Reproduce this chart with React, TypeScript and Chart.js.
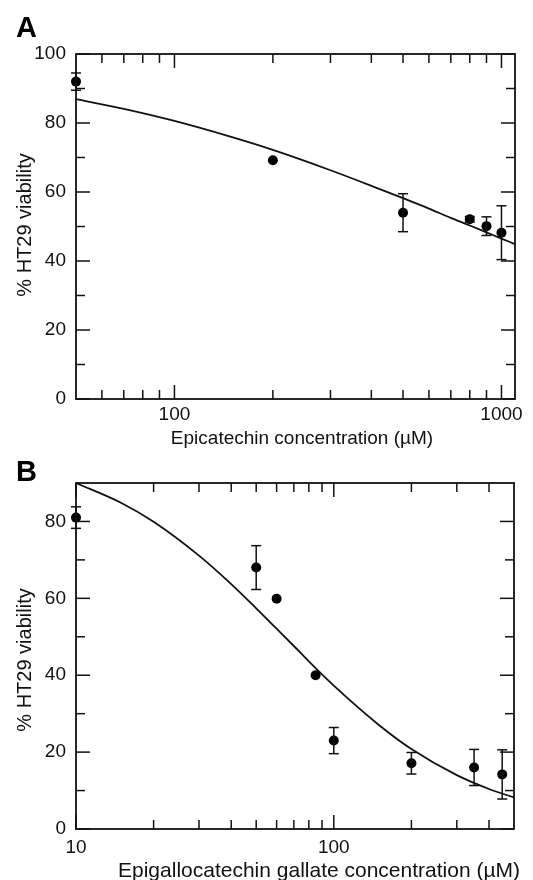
import React, { useEffect, useRef } from 'react';
import { Chart, registerables } from 'chart.js';

Chart.register(...registerables);

// ---------- Panel A : Epicatechin ----------
const aConc = [50, 200, 500, 800, 900, 1000];
const aViab = [92, 69.2, 54, 52.1, 50.1, 48.2];
const aErr = [2.5, 0, 5.5, 0.8, 2.7, 7.8];
const aFitConc = [50, 70, 100, 150, 200, 300, 400, 500, 600, 700, 800, 900, 1000, 1100];
const aFitViab = [86.9, 84.1, 80.6, 75.9, 72.2, 66.3, 61.8, 58.2, 55.2, 52.5, 50.3, 48.3, 46.5, 44.9];
const aXLabels = [100, 1000];
const aXMinor = [60, 70, 80, 90, 200, 300, 400, 500, 600, 700, 800, 900];
const aYLabels = [0, 20, 40, 60, 80, 100];
const aYMinor = [10, 30, 50, 70, 90];

// ---------- Panel B : Epigallocatechin gallate ----------
const bConc = [10, 50, 60, 85, 100, 200, 350, 450];
const bViab = [81, 68, 59.9, 40, 23, 17.1, 16, 14.2];
const bErr = [2.8, 5.7, 0, 0, 3.4, 2.8, 4.7, 6.4];
const bFitConc = [10, 15, 20, 30, 40, 50, 60, 70, 80, 100, 150, 200, 300, 400, 500];
const bFitViab = [90, 84.8, 79.9, 71.1, 63.7, 57.4, 52.1, 47.6, 43.6, 37.3, 27.0, 20.8, 14.0, 10.4, 8.2];
const bXLabels = [10, 100];
const bXMinor = [20, 30, 40, 50, 60, 70, 80, 90, 200, 300, 400];
const bYLabels = [0, 20, 40, 60, 80];
const bYMinor = [10, 30, 50, 70];

const INK = '#111';
const FONT = '"Liberation Sans", Arial, Helvetica, sans-serif';

type Panel = {
  letter: string;
  xTitle: string;
  yTitle: string;
  conc: number[];
  viab: number[];
  err: number[];
  fitConc: number[];
  fitViab: number[];
  xLabels: number[];
  xMinor: number[];
  yLabels: number[];
  yMinor: number[];
  xMin: number;
  xMax: number;
  yMax: number;
  height: number;
  padTop: number;
  padRight: number;
  xTickPad: number;
  letterY: number;
  xTitleX: number;
  xTitleY: number;
  xTitleSize: number;
  yTitleY: number;
};

const panelA: Panel = {
  letter: 'A',
  xTitle: 'Epicatechin concentration (\u00B5M)',
  yTitle: '% HT29 viability',
  conc: aConc, viab: aViab, err: aErr,
  fitConc: aFitConc, fitViab: aFitViab,
  xLabels: aXLabels, xMinor: aXMinor, yLabels: aYLabels, yMinor: aYMinor,
  xMin: 50, xMax: 1100, yMax: 100,
  height: 450, padTop: 54, padRight: 18, xTickPad: 4,
  letterY: 37, xTitleX: 302, xTitleY: 443.5, xTitleSize: 19, yTitleY: 225,
};

const panelB: Panel = {
  letter: 'B',
  xTitle: 'Epigallocatechin gallate concentration (\u00B5M)',
  yTitle: '% HT29 viability',
  conc: bConc, viab: bViab, err: bErr,
  fitConc: bFitConc, fitViab: bFitViab,
  xLabels: bXLabels, xMinor: bXMinor, yLabels: bYLabels, yMinor: bYMinor,
  xMin: 10, xMax: 500, yMax: 90,
  height: 430, padTop: 33, padRight: 19, xTickPad: 7,
  letterY: 31, xTitleX: 319, xTitleY: 427, xTitleSize: 21, yTitleY: 210,
};

function makeDecor(p: Panel) {
  return {
    id: 'decor' + p.letter,
    afterDatasetsDraw(chart: any) {
      const { ctx, chartArea: ca } = chart;
      const xs = chart.scales.x;
      const ys = chart.scales.y;
      ctx.save();
      ctx.strokeStyle = INK;
      ctx.lineWidth = 1.5;
      const seg = (x1: number, y1: number, x2: number, y2: number) => {
        ctx.beginPath();
        ctx.moveTo(x1, y1);
        ctx.lineTo(x2, y2);
        ctx.stroke();
      };
      // error bars
      p.conc.forEach((c, i) => {
        const e = p.err[i];
        if (!e) return;
        const px = xs.getPixelForValue(c);
        const t = ys.getPixelForValue(p.viab[i] + e);
        const b = ys.getPixelForValue(p.viab[i] - e);
        seg(px, t, px, b);
        seg(px - 5, t, px + 5, t);
        seg(px - 5, b, px + 5, b);
      });
      // inward ticks on all four sides
      const xt = (vals: number[], len: number) =>
        vals.forEach((v) => {
          const px = xs.getPixelForValue(v);
          seg(px, ca.bottom, px, ca.bottom - len);
          seg(px, ca.top, px, ca.top + len);
        });
      const yt = (vals: number[], len: number) =>
        vals.forEach((v) => {
          const py = ys.getPixelForValue(v);
          seg(ca.left, py, ca.left + len, py);
          seg(ca.right, py, ca.right - len, py);
        });
      xt(p.xLabels, 14);
      xt(p.xMinor, 9);
      yt(p.yLabels, 14);
      yt(p.yMinor, 9);
      // frame
      ctx.lineWidth = 1.8;
      ctx.strokeRect(ca.left, ca.top, ca.right - ca.left, ca.bottom - ca.top);
      // texts
      ctx.fillStyle = '#000';
      ctx.textBaseline = 'alphabetic';
      ctx.font = `bold 29px ${FONT}`;
      ctx.textAlign = 'left';
      ctx.fillText(p.letter, 16, p.letterY);
      ctx.fillStyle = INK;
      ctx.font = `${p.xTitleSize}px ${FONT}`;
      ctx.textAlign = 'center';
      ctx.fillText(p.xTitle, p.xTitleX, p.xTitleY);
      ctx.font = `20px ${FONT}`;
      ctx.translate(31, p.yTitleY);
      ctx.rotate(-Math.PI / 2);
      ctx.fillText(p.yTitle, 0, 0);
      ctx.restore();
    },
  };
}

function PanelChart({ p, top }: { p: Panel; top: number }) {
  const ref = useRef<HTMLCanvasElement>(null);
  useEffect(() => {
    const tickFont = { family: FONT, size: 19 };
    const chart = new Chart(ref.current as HTMLCanvasElement, {
      type: 'scatter',
      data: {
        datasets: [
          {
            label: 'fit',
            data: p.fitConc.map((c, i) => ({ x: c, y: p.fitViab[i] })),
            showLine: true,
            borderColor: INK,
            borderWidth: 1.8,
            pointRadius: 0,
            cubicInterpolationMode: 'monotone',
            clip: false as any,
          } as any,
          {
            label: 'data',
            data: p.conc.map((c, i) => ({ x: c, y: p.viab[i] })),
            showLine: false,
            backgroundColor: '#000',
            borderColor: '#000',
            borderWidth: 0,
            pointRadius: 5,
            clip: false as any,
          } as any,
        ],
      },
      options: {
        responsive: false,
        animation: false,
        devicePixelRatio: 1,
        layout: { padding: { top: p.padTop, right: p.padRight, left: 0, bottom: 0 } },
        plugins: { legend: { display: false }, tooltip: { enabled: false } },
        scales: {
          x: {
            type: 'logarithmic',
            min: p.xMin,
            max: p.xMax,
            grid: { display: false, drawTicks: false },
            border: { display: false },
            ticks: {
              font: tickFont,
              color: INK,
              padding: p.xTickPad,
              autoSkip: false,
              maxRotation: 0,
              callback: (v: any) => String(v),
            },
            afterBuildTicks: (s: any) => {
              s.ticks = p.xLabels.map((v) => ({ value: v }));
            },
            afterFit: (s: any) => {
              s.height = 51;
            },
          },
          y: {
            type: 'linear',
            min: 0,
            max: p.yMax,
            grid: { display: false, drawTicks: false },
            border: { display: false },
            ticks: {
              font: tickFont,
              color: INK,
              padding: 10,
              callback: (v: any) => String(v),
            },
            afterBuildTicks: (s: any) => {
              s.ticks = p.yLabels.map((v) => ({ value: v }));
            },
            afterFit: (s: any) => {
              s.width = 76;
            },
          },
        },
      } as any,
      plugins: [makeDecor(p)],
    });
    return () => chart.destroy();
  }, [p]);
  return (
    <canvas
      ref={ref}
      width={533}
      height={p.height}
      style={{ position: 'absolute', left: 0, top, width: 533, height: p.height, display: 'block' }}
    />
  );
}

export default function App() {
  return (
    <div style={{ position: 'fixed', left: 0, top: 0, width: 533, height: 880, background: '#fff' }}>
      <PanelChart p={panelA} top={0} />
      <PanelChart p={panelB} top={450} />
    </div>
  );
}
